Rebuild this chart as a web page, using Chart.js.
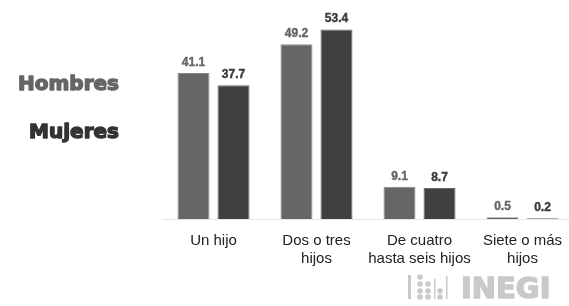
<!DOCTYPE html>
<html>
<head>
<meta charset="utf-8">
<script src="https://cdn.jsdelivr.net/npm/chart.js@4.4.0/dist/chart.umd.min.js"></script>
<style>
  html, body { margin: 0; padding: 0; background: #fff; overflow: hidden; }
  #wrap { position: relative; width: 580px; height: 306px; }
</style>
</head>
<body>
<div id="wrap"><canvas id="chart" width="580" height="306"></canvas></div>
<script>
var categories = [['Un hijo'], ['Dos o tres', 'hijos'], ['De cuatro', 'hasta seis hijos'], ['Siete o más', 'hijos']];
var hombres = [41.1, 49.2, 9.1, 0.5];
var mujeres = [37.7, 53.4, 8.7, 0.2];
var seriesNames = ['Hombres', 'Mujeres'];

// labels above bars
var valueLabels = {
    id: 'valueLabels',
    afterDatasetsDraw: function (chart) {
        var ctx = chart.ctx;
        ctx.save();
        ctx.font = 'bold 12px "Liberation Sans", Arial, sans-serif';
        ctx.textAlign = 'center';
        ctx.lineWidth = 0.4;
        chart.data.datasets.forEach(function (ds, i) {
            ctx.fillStyle = ctx.strokeStyle = i === 0 ? '#666666' : '#3a3a3a';
            chart.getDatasetMeta(i).data.forEach(function (bar, j) {
                var t = ds.data[j].toFixed(1);
                ctx.fillText(t, bar.x, bar.y - 7);
                ctx.strokeText(t, bar.x, bar.y - 7);
            });
        });
        ctx.restore();
    }
};

// series names on the left + logo
var sideText = {
    id: 'sideText',
    afterDraw: function (chart) {
        var ctx = chart.ctx;
        ctx.save();
        ctx.font = 'bold 20px "DejaVu Sans", sans-serif';
        ctx.textAlign = 'right';
        ctx.lineWidth = 1.4;
        ctx.lineJoin = 'round';
        ctx.fillStyle = ctx.strokeStyle = '#666666';
        ctx.fillText(seriesNames[0], 119, 90);
        ctx.strokeText(seriesNames[0], 119, 90);
        ctx.fillStyle = ctx.strokeStyle = '#333333';
        ctx.fillText(seriesNames[1], 119, 138);
        ctx.strokeText(seriesNames[1], 119, 138);

        // INEGI logo
        ctx.fillStyle = ctx.strokeStyle = '#c9c9c9';
        ctx.font = 'bold 29px "DejaVu Sans", sans-serif';
        ctx.textAlign = 'left';
        ctx.lineWidth = 1.4;
        ctx.fillText('INEGI', 461, 298);
        ctx.strokeText('INEGI', 461, 298);
        ctx.fillRect(408, 275, 3, 24);
        ctx.fillRect(434, 279, 1.5, 20);
        ctx.fillRect(446, 276, 1.5, 23);
        var dots = [[420, 277], [420, 284], [420, 291], [420, 297], [428, 284], [428, 291], [428, 297], [440, 291], [440, 297]];
        dots.forEach(function (d) {
            ctx.beginPath();
            ctx.arc(d[0], d[1], 2.8, 0, Math.PI * 2);
            ctx.fill();
        });
        ctx.restore();
    }
};

new Chart(document.getElementById('chart'), {
    type: 'bar',
    data: {
        labels: categories,
        datasets: [{
            label: seriesNames[0],
            data: hombres,
            backgroundColor: '#666666',
            borderColor: '#8a8a8a',
            borderWidth: 1,
            categoryPercentage: 0.777,
            barPercentage: 0.8
        }, {
            label: seriesNames[1],
            data: mujeres,
            backgroundColor: '#404040',
            borderColor: '#6a6a6a',
            borderWidth: 1,
            categoryPercentage: 0.777,
            barPercentage: 0.8
        }]
    },
    options: {
        responsive: false,
        animation: false,
        devicePixelRatio: 1,
        layout: { padding: { left: 162, right: 6, top: 6, bottom: 0 } },
        plugins: { legend: { display: false }, tooltip: { enabled: false } },
        scales: {
            x: {
                grid: { display: false, drawTicks: false },
                border: { display: true, color: '#e6e6e6', width: 1 },
                ticks: {
                    color: '#222222',
                    padding: 13,
                    font: { family: '"Liberation Sans", Arial, sans-serif', size: 15, lineHeight: 1.2 },
                    maxRotation: 0,
                    autoSkip: false
                },
                afterFit: function (scale) { scale.height = 87; }
            },
            y: {
                display: false,
                min: 0,
                max: 60
            }
        }
    },
    plugins: [valueLabels, sideText]
});
</script>
</body>
</html>
